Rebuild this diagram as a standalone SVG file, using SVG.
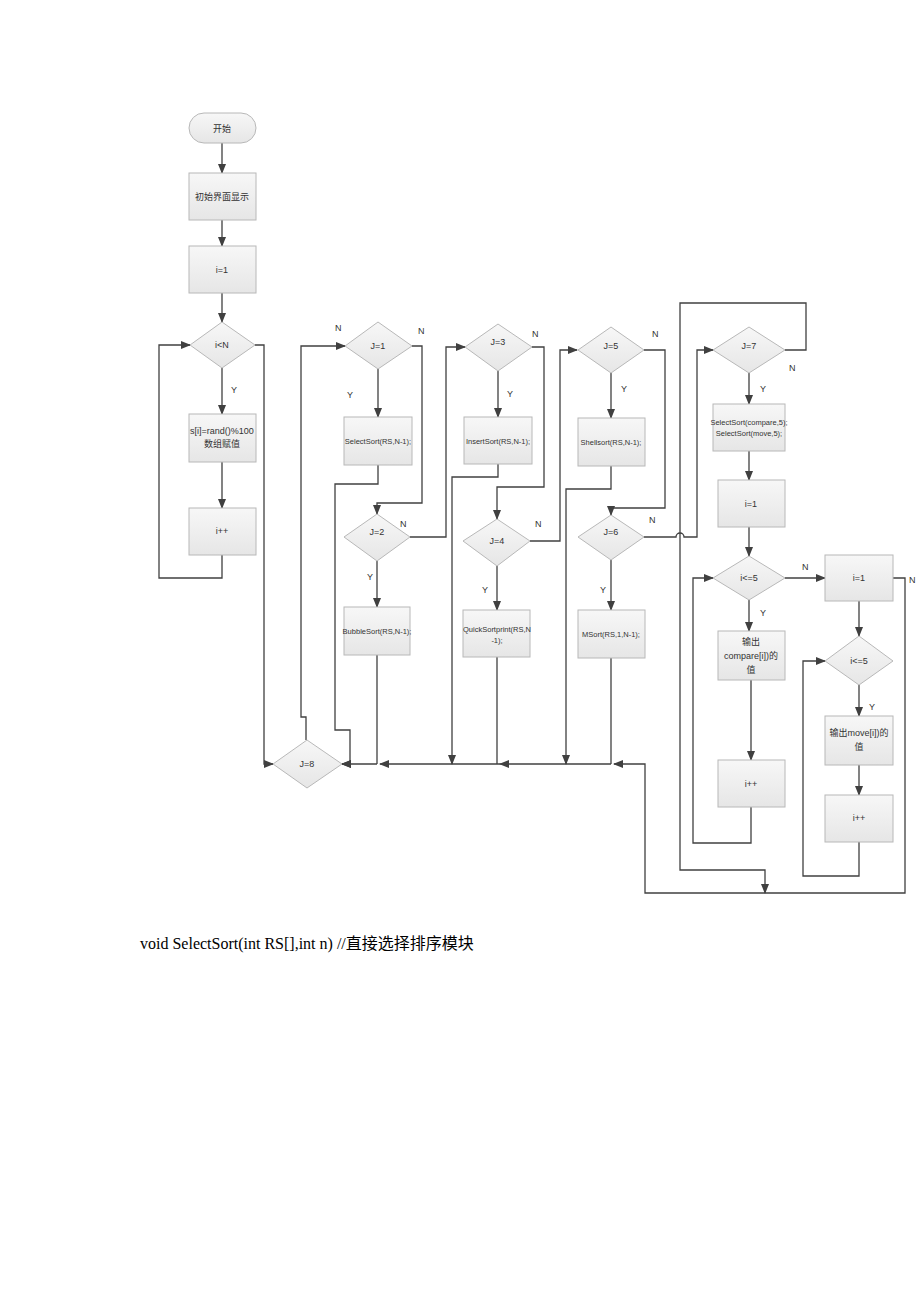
<svg xmlns="http://www.w3.org/2000/svg" width="920" height="1302" viewBox="0 0 920 1302">
<defs>
<linearGradient id="g" x1="0" y1="0" x2="0" y2="1"><stop offset="0" stop-color="#f7f7f7"/><stop offset="1" stop-color="#e6e6e6"/></linearGradient>
<marker id="a" markerWidth="10" markerHeight="8" refX="9" refY="4" orient="auto" markerUnits="userSpaceOnUse"><path d="M0,0L10,4L0,8z" fill="#404040"/></marker>
</defs>
<style>
.n{fill:url(#g);stroke:#b8b8b8;stroke-width:1}
.t{font-family:"Liberation Sans","Noto Sans CJK SC",sans-serif;font-size:9px;fill:#333;text-anchor:middle}
.s{font-size:7.5px}
.l{font-family:"Liberation Sans",sans-serif;font-size:9px;fill:#333}
.c path{fill:none;stroke:#404040;stroke-width:1.3}
.c .m{marker-end:url(#a)}
</style>
<rect width="920" height="1302" fill="#fff"/>
<g class="c">
<path class="m" d="M222,143V173"/>
<path class="m" d="M222,220V246"/>
<path class="m" d="M222,293V322"/>
<path class="m" d="M222,368V414"/>
<path class="m" d="M222,462V508"/>
<path class="m" d="M222,555V578H159V345H190"/>
<path class="m" d="M255,345H264V764H273"/>
<path class="m" d="M306,740V717H301V346H345"/>
<path class="m" d="M378,369V417"/>
<path class="m" d="M412,346H422V503H377V514"/>
<path class="m" d="M378,465V484H335V730H350V764H342"/>
<path class="m" d="M410,537H446V347H465"/>
<path class="m" d="M377,561V607"/>
<path d="M377,655V764"/>
<path class="m" d="M498,371V417"/>
<path class="m" d="M498,464V477H452V764"/>
<path class="m" d="M532,347H544V487H497V519"/>
<path class="m" d="M530,541H560V350H577"/>
<path class="m" d="M497,566V610"/>
<path d="M497,657V764"/>
<path class="m" d="M611,373V418"/>
<path class="m" d="M611,466V489H566V764"/>
<path class="m" d="M644,350H665V508H611V515"/>
<path class="m" d="M644,537H676A4,4 0 0 1 684,537H697V350H713"/>
<path class="m" d="M611,560V610"/>
<path d="M611,658V764"/>
<path class="m" d="M611,764H500"/>
<path class="m" d="M500,764H380"/>
<path class="m" d="M377,764H342"/>
<path class="m" d="M893,578H905V893H645V764H614"/>
<path class="m" d="M785,350H806V303H680V870H765V893"/>
<path class="m" d="M749,373V404"/>
<path class="m" d="M749,451V480"/>
<path class="m" d="M749,527V556"/>
<path class="m" d="M785,578H825"/>
<path class="m" d="M749,600V631"/>
<path class="m" d="M751,680V760"/>
<path class="m" d="M751,807V843H693V578H713"/>
<path class="m" d="M859,601V636"/>
<path class="m" d="M859,685V716"/>
<path class="m" d="M859,765V795"/>
<path class="m" d="M859,842V876H803V661H825"/>
</g>
<g id="start"><rect class="n" x="189" y="113" width="67" height="30" rx="15"/><text class="t" x="222" y="132">开始</text></g>
<g id="init"><rect class="n" x="189" y="173" width="67" height="47"/><text class="t" x="222" y="200">初始界面显示</text></g>
<g id="i1"><rect class="n" x="189" y="246" width="67" height="47"/><text class="t" x="222" y="273">i=1</text></g>
<g id="iN"><path class="n" d="M190,345L222,322L255,345L222,368z"/><text class="t" x="222" y="348">i&lt;N</text></g>
<g id="rand"><rect class="n" x="189" y="414" width="67" height="48"/><text class="t" x="222" y="434">s[i]=rand()%100</text><text class="t" x="222" y="447">数组赋值</text></g>
<g id="ipp"><rect class="n" x="189" y="508" width="67" height="47"/><text class="t" x="222" y="534">i++</text></g>
<g id="J8"><path class="n" d="M273,764L307,740L342,764L307,788z"/><text class="t" x="307" y="767">J=8</text></g>
<g id="J1"><path class="n" d="M345,346L378,322L412,346L378,369z"/><text class="t" x="378" y="349">J=1</text></g>
<g id="ss"><rect class="n" x="344" y="417" width="68" height="48"/><text class="t s" x="378" y="444">SelectSort(RS,N-1);</text></g>
<g id="J2"><path class="n" d="M344,537L377,514L410,537L377,561z"/><text class="t" x="377" y="535">J=2</text></g>
<g id="bs"><rect class="n" x="344" y="607" width="66" height="48"/><text class="t s" x="377" y="634">BubbleSort(RS,N-1);</text></g>
<g id="J3"><path class="n" d="M465,347L498,324L532,347L498,371z"/><text class="t" x="498" y="345">J=3</text></g>
<g id="is"><rect class="n" x="464" y="417" width="68" height="47"/><text class="t s" x="498" y="444">InsertSort(RS,N-1);</text></g>
<g id="J4"><path class="n" d="M463,541L497,519L530,541L497,566z"/><text class="t" x="497" y="544">J=4</text></g>
<g id="qs"><rect class="n" x="463" y="610" width="67" height="47"/><text class="t s" x="497" y="632">QuickSortprint(RS,N</text><text class="t s" x="497" y="643">-1);</text></g>
<g id="J5"><path class="n" d="M578,350L611,327L644,350L611,373z"/><text class="t" x="611" y="349">J=5</text></g>
<g id="sh"><rect class="n" x="578" y="418" width="67" height="48"/><text class="t s" x="611" y="445">Shellsort(RS,N-1);</text></g>
<g id="J6"><path class="n" d="M578,537L611,515L644,537L611,560z"/><text class="t" x="611" y="535">J=6</text></g>
<g id="ms"><rect class="n" x="578" y="610" width="67" height="48"/><text class="t s" x="611" y="637">MSort(RS,1,N-1);</text></g>
<g id="J7"><path class="n" d="M713,350L749,327L785,350L749,373z"/><text class="t" x="749" y="349">J=7</text></g>
<g id="sc"><rect class="n" x="713" y="404" width="72" height="47"/><text class="t s" x="749" y="425">SelectSort(compare,5);</text><text class="t s" x="749" y="436">SelectSort(move,5);</text></g>
<g id="i1b"><rect class="n" x="718" y="480" width="67" height="47"/><text class="t" x="751" y="507">i=1</text></g>
<g id="le5a"><path class="n" d="M713,578L749,556L785,578L749,600z"/><text class="t" x="749" y="581">i&lt;=5</text></g>
<g id="outc"><rect class="n" x="718" y="631" width="67" height="49"/><text class="t" x="751" y="645">输出</text><text class="t" x="751" y="659">compare[i])的</text><text class="t" x="751" y="673">值</text></g>
<g id="ippa"><rect class="n" x="718" y="760" width="67" height="47"/><text class="t" x="751" y="787">i++</text></g>
<g id="i1c"><rect class="n" x="825" y="555" width="68" height="46"/><text class="t" x="859" y="581">i=1</text></g>
<g id="le5b"><path class="n" d="M825,661L859,636L893,661L859,685z"/><text class="t" x="859" y="664">i&lt;=5</text></g>
<g id="outm"><rect class="n" x="825" y="716" width="68" height="49"/><text class="t" x="859" y="736">输出move[i])的</text><text class="t" x="859" y="750">值</text></g>
<g id="ippb"><rect class="n" x="825" y="795" width="68" height="47"/><text class="t" x="859" y="821">i++</text></g>
<g id="labels">
<text class="l" x="231" y="393">Y</text>
<text class="l" x="335" y="331">N</text><text class="l" x="418" y="334">N</text><text class="l" x="347" y="398">Y</text>
<text class="l" x="400" y="527">N</text><text class="l" x="367" y="580">Y</text>
<text class="l" x="532" y="337">N</text><text class="l" x="507" y="397">Y</text>
<text class="l" x="535" y="527">N</text><text class="l" x="482" y="593">Y</text>
<text class="l" x="652" y="337">N</text><text class="l" x="621" y="392">Y</text>
<text class="l" x="649" y="523">N</text><text class="l" x="600" y="593">Y</text>
<text class="l" x="789" y="371">N</text><text class="l" x="760" y="392">Y</text>
<text class="l" x="802" y="570">N</text><text class="l" x="760" y="616">Y</text>
<text class="l" x="909" y="583">N</text><text class="l" x="869" y="710">Y</text>
</g>
<text x="140" y="949" font-family="Liberation Serif,Noto Sans CJK SC,serif" font-size="16" fill="#000">void SelectSort(int RS[],int n) //直接选择排序模块</text>
</svg>
